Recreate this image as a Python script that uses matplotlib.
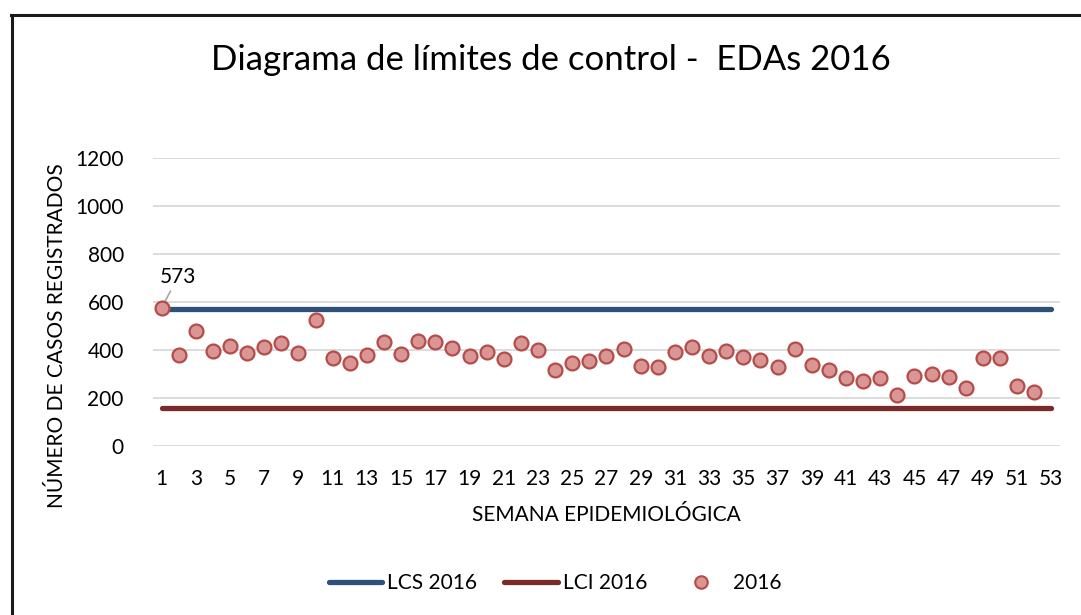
import matplotlib.pyplot as plt
from matplotlib.lines import Line2D
import numpy as np

plt.rcParams["font.family"] = ["Lato", "DejaVu Sans"]

# semanas epidemiológicas y casos registrados 2016
weeks = list(range(1, 53))
cases_2016 = [573, 378, 479, 396, 417, 386, 413, 428, 388, 524,
              367, 346, 378, 434, 382, 436, 431, 408, 375, 390,
              360, 429, 397, 315, 343, 354, 375, 404, 332, 329,
              389, 410, 375, 395, 370, 357, 328, 402, 335, 315,
              282, 268, 282, 213, 291, 297, 288, 242, 367, 364,
              248, 225]
limit_weeks = list(range(1, 54))
lcs_2016 = 570
lci_2016 = 158

y_ticks = [0, 200, 400, 600, 800, 1000, 1200]
x_ticks = list(range(1, 54, 2))

BLUE = "#2F5179"
DARKRED = "#7B2A2A"
FILL = "#D99694"
EDGE = "#B44C4A"
GRID = "#D9D9D9"
FS = 15

fig = plt.figure(figsize=(10.81, 6.15), dpi=100)
ax = fig.add_axes([0.1415, 0.2753, 0.839, 0.4683])

ax.plot(limit_weeks, [lcs_2016] * len(limit_weeks), color=BLUE, lw=3.8,
        solid_capstyle="round", zorder=3, label="LCS 2016")
ax.plot(limit_weeks, [lci_2016] * len(limit_weeks), color=DARKRED, lw=3.8,
        solid_capstyle="round", zorder=3, label="LCI 2016")
ax.plot(weeks, cases_2016, linestyle="none", marker="o", markersize=10,
        markerfacecolor=FILL, markeredgecolor=EDGE, markeredgewidth=1.6,
        zorder=4, label="2016")

ax.annotate(str(cases_2016[0]), xy=(weeks[0], cases_2016[0]),
            xytext=(weeks[0] + 0.95, cases_2016[0] + 88),
            ha="center", va="bottom", fontsize=FS, color="#000000",
            arrowprops=dict(arrowstyle="-", color="#A6A6A6", lw=1.2,
                            shrinkA=1, shrinkB=0))

ax.set_xlim(0.5, 53.5)
ax.set_ylim(0, 1200)
ax.set_yticks(y_ticks)
ax.set_xticks(x_ticks)
ax.tick_params(length=0, labelsize=FS, colors="#000000")
ax.tick_params(axis="y", pad=21)
ax.tick_params(axis="x", pad=17)
ax.grid(axis="y", color=GRID, lw=1.3)
ax.set_axisbelow(True)
for s in ax.spines.values():
    s.set_visible(False)

ax.set_xlabel("SEMANA EPIDEMIOLÓGICA", fontsize=FS, labelpad=11)
ax.set_ylabel("NÚMERO DE CASOS REGISTRADOS", fontsize=FS, labelpad=6)
ax.yaxis.label.set_y(0.381)

fig.text(0.51, 1 - 60 / 615, "Diagrama de límites de control -  EDAs 2016",
         ha="center", va="center", fontsize=25)

handles = [
    Line2D([], [], color=BLUE, lw=3.8, solid_capstyle="round"),
    Line2D([], [], color=DARKRED, lw=3.8, solid_capstyle="round"),
    Line2D([], [], linestyle="none", marker="o", markersize=9,
           markerfacecolor=FILL, markeredgecolor=EDGE, markeredgewidth=1.5),
]
fig.legend(handles, ["LCS 2016", "LCI 2016", "2016"], loc="center",
           bbox_to_anchor=(555 / 1081, 1 - 583 / 615), ncol=3, frameon=False,
           fontsize=FS, handlelength=2.55, handletextpad=0.25,
           columnspacing=1.3)

# marco del gráfico (recortado a la derecha y abajo)
fig.add_artist(Line2D([12 / 1081, 12 / 1081], [0, 1 - 15 / 615],
                      transform=fig.transFigure, color="#1A1A1A", lw=2.2))
fig.add_artist(Line2D([11 / 1081, 1], [1 - 15 / 615, 1 - 15 / 615],
                      transform=fig.transFigure, color="#1A1A1A", lw=2.2))

fig.savefig("out.png", dpi=100)
